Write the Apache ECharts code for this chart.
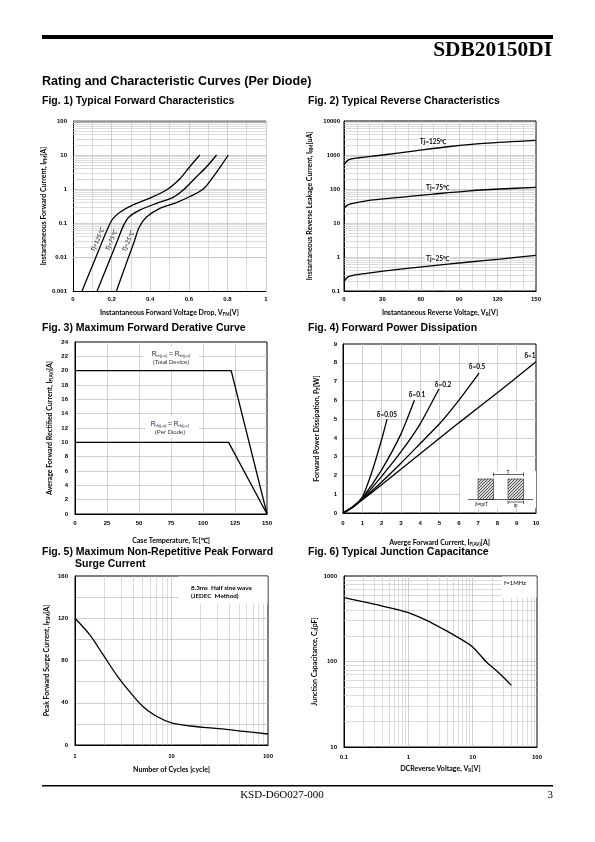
<!DOCTYPE html>
<html><head><meta charset="utf-8">
<script src="https://cdn.jsdelivr.net/npm/echarts@6/dist/echarts.min.js"></script>
<style>html,body{margin:0;padding:0;background:#fff}#c{width:595px;height:842px}</style>
</head><body><div id="c"></div><script>
// ---------------- DATA ----------------
// Fig.1 forward characteristics [V, A]
const fig1Tj125 = [[0.047,0.001],[0.081,0.003],[0.119,0.01],[0.153,0.03],[0.187,0.085],[0.205,0.13],[0.245,0.21],[0.311,0.34],[0.398,0.54],[0.484,0.93],[0.554,2.0],[0.606,4.6],[0.657,10]];
const fig1Tj75  = [[0.125,0.001],[0.159,0.003],[0.196,0.01],[0.23,0.03],[0.262,0.085],[0.29,0.15],[0.346,0.24],[0.433,0.38],[0.519,0.57],[0.571,0.93],[0.640,2.3],[0.692,4.5],[0.744,10]];
const fig1Tj25  = [[0.225,0.001],[0.255,0.003],[0.288,0.01],[0.317,0.028],[0.343,0.075],[0.381,0.15],[0.450,0.27],[0.536,0.4],[0.606,0.6],[0.675,1.0],[0.727,2.3],[0.770,5.1],[0.805,10]];
// Fig.2 reverse characteristics [V, uA]
const fig2Tj125 = [[0,510],[1.8,635],[4.4,740],[12,830],[30,1000],[57,1350],[83,1780],[109,2200],[150,2700]];
const fig2Tj75  = [[0,27],[3,34],[7,38],[17.5,45],[44,57],[70,71],[96,87],[122,100],[150,112]];
const fig2Tj25  = [[0,0.19],[3,0.26],[7,0.29],[17.5,0.33],[44,0.44],[70,0.56],[96,0.70],[122,0.87],[150,1.12]];
// Fig.3 derating [Tc, A]
const fig3Total   = [[0,20],[122,20],[150,0]];
const fig3PerDiode = [[0,10],[120,10],[150,0]];
// Fig.4 power dissipation [A, W]
const fig4D005 = [[0,0],[0.5,0.33],[1,0.85],[1.5,2.2],[2,3.9],[2.28,5.0]];
const fig4D01  = [[0,0],[0.5,0.32],[1,0.8],[2,2.3],[3,4.2],[3.7,6.0]];
const fig4D02  = [[0,0],[0.5,0.3],[1,0.75],[2,1.95],[3,3.25],[4,4.75],[4.97,6.6]];
const fig4D05  = [[0,0],[0.5,0.3],[1,0.72],[2,1.65],[3,2.65],[4,3.7],[5,4.75],[6,6.0],[7.05,7.45]];
const fig4D1   = [[0,0],[0.4,0.25],[0.8,0.55],[1,0.7],[2,1.5],[4,3.15],[6,4.8],[8,6.4],[10,8.05]];
// Fig.5 surge current
const fig5Cycles  = [1,1.43,1.97,2.71,3.72,5.12,7.05,10,15.7,23.3,37,60,100];
const fig5Current = [120,104,85,66,50,36,27,21,18,16.4,14.8,12.6,10.4];
// Fig.6 junction capacitance
const fig6Volt = [0.1,0.222,0.40,0.73,1,1.93,3.5,6.35,10,16.5,26.4,40];
const fig6Cap  = [557,490,445,398,374,303,239,185,148,98,72,52.6];

// ---------------- STYLE ----------------
const GRID = '#c4c4c4';
const TICKF = 'Liberation Sans';
const NAMEF = 'Lato';
function nameStyle(){
  return {fontFamily:NAMEF,fontWeight:'bold',fontSize:7,color:'#000',
    rich:{a:{fontFamily:NAMEF,fontWeight:'bold',fontSize:7,color:'#000',lineHeight:9},
          s:{fontFamily:NAMEF,fontWeight:'bold',fontSize:4.6,color:'#000',verticalAlign:'bottom',lineHeight:9}}};
}
function mkAxis(gi,type,extra){
  const a={gridIndex:gi,type:type,
    axisLine:{show:true,onZero:false,lineStyle:{color:'#000',width:1}},
    axisTick:{show:false},
    splitLine:{show:true,lineStyle:{color:GRID,width:0.8}},
    axisLabel:{fontFamily:TICKF,fontWeight:'bold',fontSize:6,color:'#000',margin:5,showMinLabel:true,showMaxLabel:true},
    nameLocation:'middle',nameTextStyle:nameStyle()};
  if(type==='log'){a.logBase=10;a.axisLabel.formatter=v=>String(+(+v).toPrecision(4));}
  for(const k in extra){
    if(extra[k]&&typeof extra[k]==='object'&&!Array.isArray(extra[k])&&a[k]&&typeof a[k]==='object') Object.assign(a[k],extra[k]);
    else a[k]=extra[k];
  }
  return a;
}
function minors(e0,e1){const r=[];for(let e=e0;e<e1;e++)for(let k=2;k<=9;k++)r.push(+(k*Math.pow(10,e)).toPrecision(3));return r;}
function curve(i,data,extra){
  return Object.assign({type:'line',xAxisIndex:i,yAxisIndex:i,data:data,symbol:'none',showSymbol:false,smooth:0.3,
    lineStyle:{color:'#000',width:1.3},z:5,silent:true,animation:false},extra||{});
}
function gridLines(i,data,xs,ys,color,width){
  const d=[];(xs||[]).forEach(v=>d.push({xAxis:v}));(ys||[]).forEach(v=>d.push({yAxis:v}));
  return {type:'line',xAxisIndex:i,yAxisIndex:i,data:data,symbol:'none',lineStyle:{opacity:0},z:1,silent:true,animation:false,
    markLine:{silent:true,symbol:['none','none'],label:{show:false},animation:false,
      lineStyle:{color:color||GRID,width:width||0.6,type:'solid'},emphasis:{disabled:true},data:d}};
}
const box={show:true,borderColor:'#000',borderWidth:1,backgroundColor:'transparent'};
const noEdge={showMinLine:false,showMaxLine:false,show:true,lineStyle:{color:GRID,width:0.8}};

// ---------------- OPTION ----------------
const grids=[
  {left:73,top:121,width:193,height:170},
  Object.assign({left:344,top:121,width:192,height:170},box),
  Object.assign({left:75,top:342,width:192,height:172},box),
  Object.assign({left:343,top:344,width:193,height:169},box),
  Object.assign({left:75,top:576,width:193,height:169},box),
  Object.assign({left:344,top:576,width:193,height:171},box)
];
const xAxes=[
  mkAxis(0,'value',{min:0,max:1,interval:0.2,name:'{a|Instantaneous Forward Voltage Drop, V}{s|FM}{a|[V]}',nameGap:17,
    minorTick:{show:false,splitNumber:2},minorSplitLine:{show:true,lineStyle:{color:GRID,width:0.6}}}),
  mkAxis(1,'value',{min:0,max:150,interval:30,name:'{a|Instantaneous Reverse Voltage, V}{s|R}{a|[V]}',nameGap:17,
    splitLine:noEdge,minorTick:{show:false,splitNumber:3},minorSplitLine:{show:true,lineStyle:{color:GRID,width:0.6}}}),
  mkAxis(2,'value',{min:0,max:150,interval:25,name:'{a|Case Temperature, Tc[℃]}',nameGap:22,splitLine:noEdge,axisLabel:{margin:6}}),
  mkAxis(3,'value',{min:0,max:10,interval:1,name:'{a|Averge Forward Current, I}{s|F(AV)}{a|[A]}',nameGap:25,splitLine:noEdge,axisLabel:{margin:7}}),
  mkAxis(4,'log',{min:1,max:100,name:'{a|Number of Cycles [cycle]}',nameGap:20,splitLine:noEdge,axisLabel:{margin:8}}),
  mkAxis(5,'log',{min:0.1,max:100,name:'{a|DCReverse Voltage, V}{s|R}{a|[V]}',nameGap:17,splitLine:noEdge,axisLabel:{margin:7}})
];
const yAxes=[
  mkAxis(0,'log',{min:0.001,max:100,name:'{a|Instantaneous Forward Current, I}{s|FM}{a|[A]}',nameGap:23,axisLabel:{margin:6}}),
  mkAxis(1,'log',{min:0.1,max:10000,name:'{a|Instantaneous Reverse Leakage Current, I}{s|RM}{a|[uA]}',nameGap:30,splitLine:noEdge,axisLabel:{margin:4}}),
  mkAxis(2,'value',{min:0,max:24,interval:2,name:'{a|Average Forward Rectified Current, I}{s|F(AV)}{a|[A]}',nameGap:21,splitLine:noEdge,axisLabel:{margin:7}}),
  mkAxis(3,'value',{min:0,max:9,interval:1,name:'{a|Forward Power Dissipation, P}{s|F}{a|[W]}',nameGap:22,splitLine:noEdge,axisLabel:{margin:6}}),
  mkAxis(4,'value',{min:0,max:160,interval:40,name:'{a|Peak Forward Surge Current, I}{s|FSM}{a|[A]}',nameGap:24,splitLine:noEdge,axisLabel:{margin:7},
    minorTick:{show:false,splitNumber:2},minorSplitLine:{show:true,lineStyle:{color:GRID,width:0.8}}}),
  mkAxis(5,'log',{min:10,max:1000,name:'{a|Junction Capacitance, C}{s|J}{a|[pF]}',nameGap:25,splitLine:noEdge,axisLabel:{margin:7}})
];
const fig5Data=fig5Cycles.map((c,i)=>[c,fig5Current[i]]);
const fig6Data=fig6Volt.map((v,i)=>[v,fig6Cap[i]]);
const series=[
  gridLines(0,fig1Tj125,null,minors(-3,2)),
  gridLines(0,fig1Tj125,null,[100],'#9a9a9a',2.5),
  curve(0,fig1Tj125),curve(0,fig1Tj75),curve(0,fig1Tj25),
  gridLines(1,fig2Tj125,null,minors(-1,4)),
  curve(1,fig2Tj125),curve(1,fig2Tj75),curve(1,fig2Tj25),
  curve(2,fig3Total,{smooth:false}),curve(2,fig3PerDiode,{smooth:false}),
  curve(3,fig4D005,{smooth:0.2}),curve(3,fig4D01,{smooth:0.2}),curve(3,fig4D02,{smooth:0.2}),curve(3,fig4D05,{smooth:0.2}),curve(3,fig4D1,{smooth:0.2}),
  gridLines(4,fig5Data,minors(0,2),null),
  curve(4,fig5Data),
  gridLines(5,fig6Data,minors(-1,2),minors(1,3)),
  curve(5,fig6Data)
];

// ---------------- DECORATION / TEXT ----------------
function T(x,y,text,font,opt){
  opt=opt||{};
  const al=opt.align||'left';
  const el={type:'text',x:x,y:y,z:100,rotation:opt.rot||0,silent:true,
    style:{text:text,x:0,y:0,font:font,fill:opt.fill||'#000',align:al,textAlign:al,verticalAlign:'middle',textVerticalAlign:'middle'}};
  if(opt.bg){el.style.backgroundColor=opt.bg;el.style.padding=opt.pad||[0,1];}
  if(opt.rich) el.style.rich=opt.rich;
  return el;
}
function R(x,y,w,h,fill,stroke,lw){return {type:'rect',z:99,silent:true,shape:{x:x,y:y,width:w,height:h},style:{fill:fill,stroke:stroke||null,lineWidth:lw||0}};}
function L(x1,y1,x2,y2,w){return {type:'line',z:101,silent:true,shape:{x1:x1,y1:y1,x2:x2,y2:y2},style:{stroke:'#000',lineWidth:w||0.6}};}
const pc=document.createElement('canvas');pc.width=3;pc.height=3;
(function(){const g=pc.getContext('2d');g.fillStyle='#d8d8d8';g.fillRect(0,0,3,3);g.fillStyle='#555';g.fillRect(0,0,1,1);g.fillRect(2,1,1,1);g.fillRect(1,2,1,1);})();
const hatch={type:'pattern',image:pc,repeat:'repeat'};

const FT='bold 10.5px "Liberation Sans"';
const LBL='bold 6.5px Lato';
const richR={r:{font:'6.5px "Liberation Sans"',fill:'#1a1a4a'},s:{font:'4.2px "Liberation Sans"',fill:'#1a1a4a',verticalAlign:'bottom',lineHeight:7}};
const ROT=67*Math.PI/180;
const graphic=[
  R(42,35,511,4,'#000'),
  T(552,50,'SDB20150DI','bold 21.4px "Liberation Serif"',{align:'right'}),
  T(42,82,'Rating and Characteristic Curves (Per Diode)','bold 12.6px "Liberation Sans"'),
  T(42,101,'Fig. 1) Typical Forward Characteristics',FT),
  T(308,101,'Fig. 2) Typical Reverse Characteristics',FT),
  T(42,328,'Fig. 3) Maximum Forward Derative Curve',FT),
  T(308,328,'Fig. 4) Forward Power Dissipation',FT),
  T(42,552,'Fig. 5) Maximum Non-Repetitive Peak Forward',FT),
  T(75,564.5,'Surge Current',FT),
  T(308,552,'Fig. 6) Typical Junction Capacitance',FT),
  R(42,785,511,1.6,'#000'),
  T(282,795,'KSD-D6O027-000','11px "Liberation Serif"',{align:'center'}),
  T(553,795,'3','11px "Liberation Serif"',{align:'right'}),
  // fig1 labels
  T(97.5,240,'Tj=125℃','italic 6px Lato',{align:'center',rot:ROT}),
  T(111.5,240.5,'Tj=75℃','italic 6px Lato',{align:'center',rot:ROT}),
  T(128,241.5,'Tj=25℃','italic 6px Lato',{align:'center',rot:ROT}),
  // fig2 labels
  T(433,142,'Tj=125℃',LBL,{align:'center',bg:'#fff'}),
  T(437.5,188,'Tj=75℃',LBL,{align:'center',bg:'#fff'}),
  T(437.5,259,'Tj=25℃',LBL,{align:'center',bg:'#fff'}),
  // fig3 annotations
  R(143,346,56,23,'#fff'),
  T(171,354,'{r|R}{s|th(j-a)}{r| = R}{s|th(j-a)}','6.5px "Liberation Sans"',{align:'center',rich:richR}),
  T(171,362,'(Total Device)','6px "Liberation Sans"',{align:'center',fill:'#333'}),
  R(145,416,54,22,'#fff'),
  T(170,424,'{r|R}{s|th(j-a)}{r| = R}{s|th(j-c)}','6.5px "Liberation Sans"',{align:'center',rich:richR}),
  T(170,432,'(Per Diode)','6px "Liberation Sans"',{align:'center',fill:'#333'}),
  // fig4 labels
  T(387,415,'δ=0.05',LBL,{align:'center'}),
  T(417,395,'δ=0.1',LBL,{align:'center'}),
  T(443,385,'δ=0.2',LBL,{align:'center'}),
  T(477,367,'δ=0.5',LBL,{align:'center'}),
  T(530,356,'δ=1',LBL,{align:'center'}),
  // fig4 inset
  R(460,471,76,37,'#fff'),
  R(478,479,15.5,20.5,hatch,'#000',0.5),
  R(508,479,15.5,20.5,hatch,'#000',0.5),
  L(468,499.5,533,499.5),
  L(493.5,474.5,523.5,474.5),L(493.5,472.5,493.5,476.5),L(523.5,472.5,523.5,476.5),
  L(508,502,523.5,502),L(508,500.5,508,504),L(523.5,500.5,523.5,504),
  T(508,472.5,'T','5px "Liberation Sans"',{align:'center'}),
  T(481.5,505,'δ=tp/T','4.5px "Liberation Sans"',{align:'center'}),
  T(515.7,506,'tp','4.5px "Liberation Sans"',{align:'center'}),
  // fig5 annotation
  R(178,576.5,89.5,27,'#fff'),
  T(191,587.5,'8.3ms  Half sine wave','bold 6.3px Lato'),
  T(191,596,'(JEDEC  Method)','bold 6.3px Lato'),
  // fig6 annotation
  R(502,576.5,34.5,21,'#fff'),
  T(515,583,'f=1MHz','6px Lato',{align:'center'})
];

const chart=echarts.init(document.getElementById('c'),null,{renderer:'canvas',width:595,height:842});
chart.setOption({animation:false,backgroundColor:'#fff',grid:grids,xAxis:xAxes,yAxis:yAxes,series:series,graphic:{elements:graphic}});
</script></body></html>
